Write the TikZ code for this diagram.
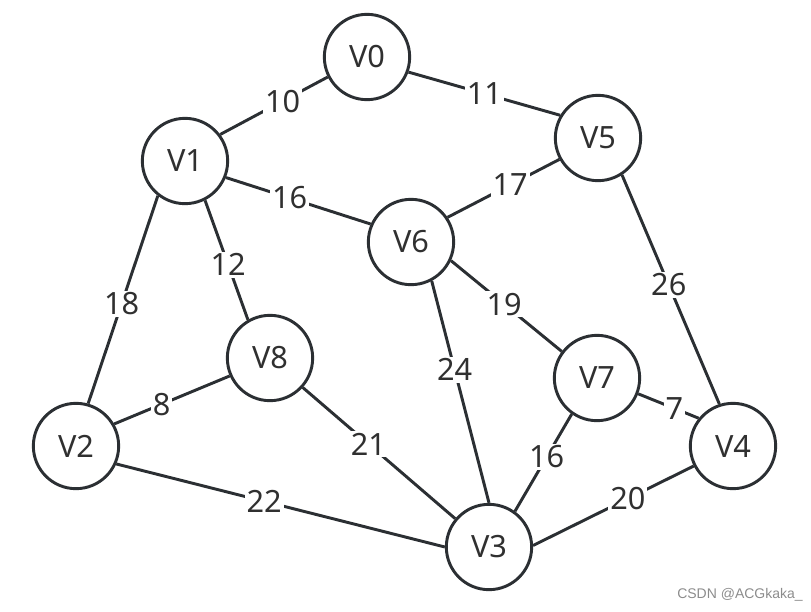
\documentclass[tikz,border=0pt]{standalone}
\usepackage{fontspec}
\setmainfont{Noto Sans}
\newfontfamily\markfont{Liberation Sans}
\usepackage{xcolor}

\definecolor{linegray}{HTML}{2B2F33}
\definecolor{labelgray}{HTML}{303030}

\tikzset{
  vertex/.style={circle, draw=linegray, line width=2.2pt, fill=white,
    minimum size=64pt, inner sep=0pt, text=labelgray,
    font=\fontsize{23}{27}\selectfont},
  weight/.style={fill=white, inner sep=1.5pt, text=labelgray,
    font=\fontsize{23}{27}\selectfont},
  edge/.style={draw=linegray, line width=2.2pt}
}

\begin{document}
\begin{tikzpicture}[x=0.75pt, y=-0.75pt]
	\useasboundingbox (0,0) rectangle (811,611);
	
	% Vertices
	\node[vertex] (V0) at (367,57) {V0};
	\node[vertex] (V1) at (185,161) {V1};
	\node[vertex] (V5) at (598,138) {V5};
	\node[vertex] (V6) at (411,242) {V6};
	\node[vertex] (V8) at (270,358) {V8};
	\node[vertex] (V7) at (597,378) {V7};
	\node[vertex] (V2) at (76,446) {V2};
	\node[vertex] (V4) at (733,446) {V4};
	\node[vertex] (V3) at (489,547) {V3};
	
	% Edges with weights
	\draw[edge] (V1.37) -- node[weight, pos=0.58] {10} (V0.207);
	\draw[edge] (V0.-20) -- node[weight, pos=0.5] {11} (V5.149);
	\draw[edge] (V1.-22) -- node[weight, pos=0.44] {16} (V6.156);
	\draw[edge] (V6.34) -- node[weight, pos=0.56] {17} (V5.209);
	\draw[edge] (V1.-63) -- node[weight, pos=0.54] {12} (V8.120);
	\draw[edge] (V1.232) -- node[weight, pos=0.52] {18} (V2.74);
	\draw[edge] (V2.30) -- node[weight, pos=0.41] {8} (V8.204);
	\draw[edge] (V8.-42) -- node[weight, pos=0.43] {21} (V3.140);
	\draw[edge] (V2.-24) -- node[weight, pos=0.45] {22} (V3.180);
	\draw[edge] (V6.-62) -- node[weight, pos=0.40] {24} (V3.90);
	\draw[edge] (V6.-25) -- node[weight, pos=0.48] {19} (V7.143);
	\draw[edge] (V7.235) -- node[weight, pos=0.44] {16} (V3.54);
	\draw[edge] (V5.-57) -- node[weight, pos=0.48] {26} (V4.108);
	\draw[edge] (V7.-21) -- node[weight, pos=0.6] {7} (V4.141);
	\draw[edge] (V3.2) -- node[weight, pos=0.59] {20} (V4.207);
	
	% Watermark
	\node[text=black!45, font=\markfont\fontsize{10.5}{12}\selectfont] (mark) at (740,595) {CSDN @ACGkaka\_};
	
\end{tikzpicture}
\end{document}
